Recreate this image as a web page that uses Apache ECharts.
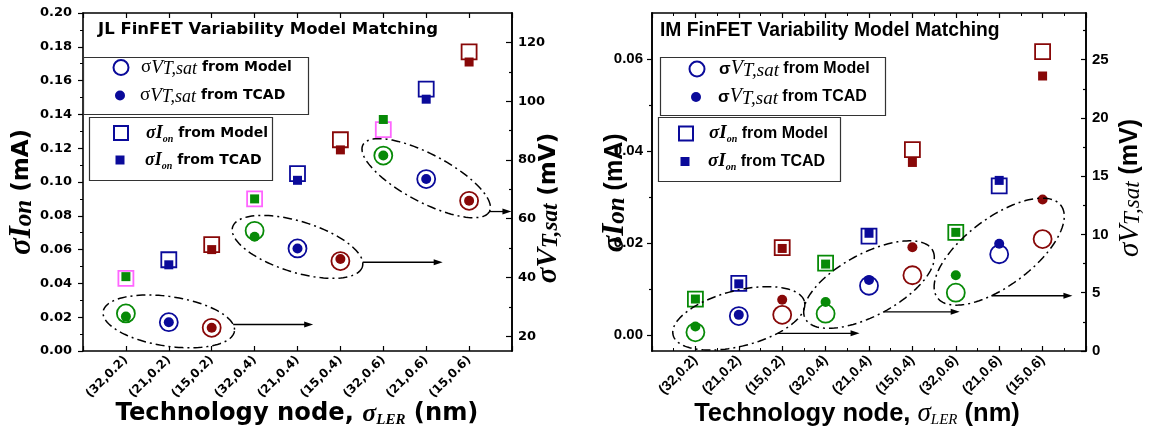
<!DOCTYPE html>
<html>
<head>
<meta charset="utf-8">
<title>FinFET Variability Model Matching</title>
<script src="https://cdn.jsdelivr.net/npm/echarts@6.0.0/dist/echarts.min.js"></script>
<style>
html, body { margin: 0; padding: 0; background: #fff; }
#chart { width: 1156px; height: 442px; }
</style>
</head>
<body>
<div id="chart"></div>
<script>
// Technology node (nm), sigma_LER (nm)
const categories = ['(32,0.2)', '(21,0.2)', '(15,0.2)', '(32,0.4)', '(21,0.4)', '(15,0.4)', '(32,0.6)', '(21,0.6)', '(15,0.6)'];

// Junctionless FinFET: sigma Ion (mA) and sigma VT,sat (mV)
const jlIonModel = [0.043, 0.054, 0.063, 0.090, 0.105, 0.125, 0.131, 0.155, 0.177];
const jlIonTcad  = [0.044, 0.051, 0.060, 0.090, 0.101, 0.119, 0.137, 0.149, 0.171];
const jlVtModel  = [27.8, 24.8, 22.9, 55.9, 49.9, 45.6, 81.5, 73.5, 66.1];
const jlVtTcad   = [26.7, 24.8, 22.9, 53.9, 49.9, 46.3, 81.5, 73.5, 66.1];

// Inversion-mode FinFET: sigma Ion (mA) and sigma VT,sat (mV)
const imIonModel = [0.0078, 0.0112, 0.0190, 0.0156, 0.0215, 0.0403, 0.0223, 0.0324, 0.0616];
const imIonTcad  = [0.0078, 0.0111, 0.0188, 0.0154, 0.0221, 0.0375, 0.0223, 0.0336, 0.0563];
const imVtModel  = [1.6, 3.0, 3.1, 3.2, 5.6, 6.5, 5.0, 8.3, 9.6];
const imVtTcad   = [2.1, 3.1, 4.4, 4.2, 6.1, 8.9, 6.5, 9.2, 13.0];

// Axis ranges and tick values
const jlIonRange = [0, 0.2];
const jlVtRange = [15, 130];
const jlVtTicks = [20, 40, 60, 80, 100, 120];
const jlVtMinorTicks = [30, 50, 70, 90, 110];
const imIonRange = [-0.0035, 0.07];
const imIonTicks = [0, 0.02, 0.04, 0.06];
const imIonMinorTicks = [0.01, 0.03, 0.05];
const imVtRange = [0, 29];
const imVtTicks = [0, 5, 10, 15, 20, 25];
const imVtMinorTicks = [2.5, 7.5, 12.5, 17.5, 22.5, 27.5];

const BLACK = '#000';
const GREEN = '#078a07', NAVY = '#0a0a9a', MAROON = '#880808', PINK = '#ff66ff';
const nodeColors = { '32': GREEN, '21': NAVY, '15': MAROON };
const nodeOf = i => categories[i].slice(1, 3);
const colorOf = i => nodeColors[nodeOf(i)];
const jlModelSquareColor = i => nodeOf(i) === '32' ? PINK : colorOf(i);

const chart = echarts.init(document.getElementById('chart'), null, { renderer: 'canvas' });

const lineStyle = { color: BLACK, width: 1.6 };
const tickStyle = { color: BLACK, width: 1.2 };

function xAxisPair(gridIndex, fontFamily, fontSize, minor) {
  const base = {
    type: 'value', gridIndex, min: 0, max: categories.length + 1, interval: 1,
    axisLine: { show: true, onZero: false, lineStyle },
    axisTick: { show: true, inside: true, length: 5, lineStyle: tickStyle },
    minorTick: { show: minor, splitNumber: 2, length: 3, lineStyle: { color: BLACK, width: 1 } },
    splitLine: { show: false }, minorSplitLine: { show: false }
  };
  return [
    Object.assign({}, base, {
      position: 'bottom',
      axisLabel: { show: true, rotate: 45, margin: 7, color: BLACK, fontFamily, fontWeight: 'bold', fontSize,
        formatter: v => categories[v - 1] || '' }
    }),
    Object.assign({}, base, { position: 'top', axisLabel: { show: false } })
  ];
}

function valueAxis(gridIndex, position, range, cfg) {
  return {
    type: 'value', gridIndex, position, min: range[0], max: range[1],
    axisLine: { show: true, onZero: false, lineStyle },
    splitLine: { show: false }, minorSplitLine: { show: false },
    ...cfg
  };
}

const yAxes = [
  // 0: JL sigma Ion
  valueAxis(0, 'left', jlIonRange, {
    interval: 0.02,
    axisTick: { show: true, inside: false, length: 5, lineStyle: tickStyle },
    minorTick: { show: true, splitNumber: 2, length: 3, lineStyle: { color: BLACK, width: 1 } },
    axisLabel: { margin: 11, color: BLACK, fontFamily: 'DejaVu Sans', fontWeight: 'bold', fontSize: 13,
      formatter: v => v.toFixed(2) }
  }),
  // 1: JL sigma VT,sat
  valueAxis(0, 'right', jlVtRange, {
    axisTick: { show: true, inside: true, length: 6, customValues: jlVtTicks, lineStyle: tickStyle },
    axisLabel: { customValues: jlVtTicks, margin: 6, color: BLACK, fontFamily: 'DejaVu Sans', fontWeight: 'bold', fontSize: 13 }
  }),
  // 2: JL sigma VT,sat minor ticks
  valueAxis(0, 'right', jlVtRange, {
    axisTick: { show: true, inside: true, length: 3, customValues: jlVtMinorTicks, lineStyle: tickStyle },
    axisLabel: { show: false }
  }),
  // 3: IM sigma Ion
  valueAxis(1, 'left', imIonRange, {
    axisTick: { show: true, inside: false, length: 5, customValues: imIonTicks, lineStyle: tickStyle },
    axisLabel: { customValues: imIonTicks, margin: 9, color: BLACK, fontFamily: 'Liberation Sans', fontWeight: 'bold', fontSize: 15,
      formatter: v => v.toFixed(2) }
  }),
  // 4: IM sigma Ion minor ticks
  valueAxis(1, 'left', imIonRange, {
    axisTick: { show: true, inside: false, length: 3, customValues: imIonMinorTicks, lineStyle: tickStyle },
    axisLabel: { show: false }
  }),
  // 5: IM sigma VT,sat
  valueAxis(1, 'right', imVtRange, {
    axisTick: { show: true, inside: true, length: 5, customValues: imVtTicks, lineStyle: tickStyle },
    axisLabel: { customValues: imVtTicks, margin: 6, color: BLACK, fontFamily: 'Liberation Sans', fontWeight: 'bold', fontSize: 15 }
  }),
  // 6: IM sigma VT,sat minor ticks
  valueAxis(1, 'right', imVtRange, {
    axisTick: { show: true, inside: true, length: 3, customValues: imVtMinorTicks, lineStyle: tickStyle },
    axisLabel: { show: false }
  })
];

function markSeries(name, xAxisIndex, yAxisIndex, values, symbol, size, open, colorFn) {
  return {
    type: 'scatter', name, xAxisIndex, yAxisIndex, symbol, symbolSize: size,
    z: open ? 2 : 3,
    itemStyle: open
      ? { color: 'rgba(0,0,0,0)', borderColor: NAVY, borderWidth: 1.8, opacity: 1 }
      : { color: NAVY, borderWidth: 0, opacity: 1 },
    emphasis: { disabled: true },
    data: values.map((v, i) => ({
      value: [i + 1, v],
      itemStyle: open ? { borderColor: colorFn(i) } : { color: colorFn(i) }
    }))
  };
}

const series = [
  markSeries('JL Ion Model', 0, 0, jlIonModel, 'rect', 15, true, jlModelSquareColor),
  markSeries('JL Ion TCAD', 0, 0, jlIonTcad, 'rect', 9, false, colorOf),
  markSeries('JL VT Model', 0, 1, jlVtModel, 'circle', 18, true, colorOf),
  markSeries('JL VT TCAD', 0, 1, jlVtTcad, 'circle', 10, false, colorOf),
  markSeries('IM Ion Model', 2, 3, imIonModel, 'rect', 15, true, colorOf),
  markSeries('IM Ion TCAD', 2, 3, imIonTcad, 'rect', 9, false, colorOf),
  markSeries('IM VT Model', 2, 5, imVtModel, 'circle', 18, true, colorOf),
  markSeries('IM VT TCAD', 2, 5, imVtTcad, 'circle', 10, false, colorOf)
];

// Legend text styles for each panel
const jlRich = {
  sg: { fontFamily: 'Liberation Serif', fontSize: 19, lineHeight: 22, color: BLACK },
  v:  { fontFamily: 'Liberation Serif', fontStyle: 'italic', fontSize: 19, lineHeight: 22, color: BLACK },
  vs: { fontFamily: 'Liberation Serif', fontStyle: 'italic', fontSize: 18, lineHeight: 6, verticalAlign: 'bottom', color: BLACK },
  i:  { fontFamily: 'Liberation Serif', fontStyle: 'italic', fontWeight: 'bold', fontSize: 18, lineHeight: 22, color: BLACK },
  is: { fontFamily: 'Liberation Serif', fontStyle: 'italic', fontWeight: 'bold', fontSize: 10, lineHeight: 2, verticalAlign: 'bottom', color: BLACK },
  t:  { fontFamily: 'DejaVu Sans', fontWeight: 'bold', fontSize: 14, lineHeight: 22, color: BLACK }
};
const imRich = {
  sg: { fontFamily: 'Liberation Sans', fontWeight: 'bold', fontSize: 17, lineHeight: 22, color: BLACK },
  v:  { fontFamily: 'Liberation Serif', fontStyle: 'italic', fontSize: 20, lineHeight: 22, color: BLACK },
  vs: { fontFamily: 'Liberation Serif', fontStyle: 'italic', fontSize: 19, lineHeight: 6, verticalAlign: 'bottom', color: BLACK },
  i:  { fontFamily: 'Liberation Serif', fontStyle: 'italic', fontWeight: 'bold', fontSize: 19, lineHeight: 22, color: BLACK },
  is: { fontFamily: 'Liberation Serif', fontStyle: 'italic', fontWeight: 'bold', fontSize: 10, lineHeight: 2, verticalAlign: 'bottom', color: BLACK },
  t:  { fontFamily: 'Liberation Sans', fontWeight: 'bold', fontSize: 16, lineHeight: 22, color: BLACK }
};
const legendLabels = {
  'VT Model': '{gap| }{sg|σ}{v|V}{vs|T,sat}{t| from Model}',
  'VT TCAD':  '{gap| }{sg|σ}{v|V}{vs|T,sat}{t| from TCAD}',
  'Ion Model': '{gap| }{i|σI}{is|on}{t| from Model}',
  'Ion TCAD':  '{gap| }{i|σI}{is|on}{t| from TCAD}'
};

function legendEntry(name, cx, cy, size, textX, rich) {
  const gap = Math.max(1, textX - (cx + size / 2 + 5));
  return {
    show: true, selectedMode: false, orient: 'horizontal', padding: 0, itemGap: 0,
    left: cx - size / 2, top: cy - 11, itemWidth: size, itemHeight: size,
    data: [name],
    formatter: n => legendLabels[n.slice(3)],
    textStyle: { color: BLACK, rich: Object.assign({ gap: { width: gap, lineHeight: 22 } }, rich) }
  };
}

const legends = [
  legendEntry('JL VT Model', 120, 69, 15, 140, jlRich),
  legendEntry('JL VT TCAD', 120, 97, 10, 140, jlRich),
  legendEntry('JL Ion Model', 120, 135, 14, 145, jlRich),
  legendEntry('JL Ion TCAD', 120, 162, 9, 145, jlRich),
  legendEntry('IM VT Model', 696, 70, 15, 718, imRich),
  legendEntry('IM VT TCAD', 696, 98, 10, 718, imRich),
  legendEntry('IM Ion Model', 685, 135, 14, 708, imRich),
  legendEntry('IM Ion TCAD', 685, 163, 9, 708, imRich)
];

const xAxes = [].concat(
  xAxisPair(0, 'DejaVu Sans', 12, false),
  xAxisPair(1, 'Liberation Sans', 14, true)
);

chart.setOption({
  animation: false,
  backgroundColor: '#fff',
  grid: [
    { left: 83, top: 13, width: 429, height: 338, outerBoundsMode: 'none' },
    { left: 652, top: 13, width: 434, height: 338, outerBoundsMode: 'none' }
  ],
  xAxis: xAxes,
  yAxis: yAxes,
  legend: legends,
  series
});

// Dash-dot ellipses around each sigma_LER group of VT,sat points, with arrows
const jlArrows = [{ t: -15, len: 80 }, { t: -10, len: 80 }, { t: 0, len: 22 }];
const imArrows = [{ t: 60, len: 82 }, { t: 90, len: 76 }, { t: 115, len: 81 }];

function groupAnnotations(modelIdx, tcadIdx, modelVals, tcadVals, arrows) {
  const els = [];
  arrows.forEach((arw, g) => {
    const centers = [];
    let spread = 0;
    for (let k = 0; k < 3; k++) {
      const i = 3 * g + k;
      const a = chart.convertToPixel({ seriesIndex: modelIdx }, [i + 1, modelVals[i]]);
      const b = chart.convertToPixel({ seriesIndex: tcadIdx }, [i + 1, tcadVals[i]]);
      spread = Math.max(spread, Math.hypot(a[0] - b[0], a[1] - b[1]));
      centers.push([(a[0] + b[0]) / 2, (a[1] + b[1]) / 2]);
    }
    const p = centers[0], q = centers[2];
    const cx = (p[0] + q[0]) / 2, cy = (p[1] + q[1]) / 2;
    const phi = Math.atan2(q[1] - p[1], q[0] - p[0]);
    const ra = Math.hypot(q[0] - p[0], q[1] - p[1]) / 2 + 23;
    const rb = 24 + 0.25 * spread;
    const at = t => {
      const c = Math.cos(t), s = Math.sin(t);
      return [cx + ra * c * Math.cos(phi) - rb * s * Math.sin(phi),
              cy + ra * c * Math.sin(phi) + rb * s * Math.cos(phi)];
    };
    const ring = [];
    for (let j = 0; j < 120; j++) ring.push(at(j / 120 * 2 * Math.PI));
    els.push({ type: 'polygon', silent: true, z: 10, shape: { points: ring },
      style: { fill: 'none', stroke: BLACK, lineWidth: 1.5, lineDash: [9, 4, 2, 4] } });
    const s = at(arw.t * Math.PI / 180);
    const e = [s[0] + arw.len, s[1]];
    els.push({ type: 'polyline', silent: true, z: 10, shape: { points: [s, [e[0] - 6, e[1]]] },
      style: { stroke: BLACK, lineWidth: 1.3 } });
    els.push({ type: 'polygon', silent: true, z: 10, shape: { points: [e, [e[0] - 9, e[1] - 3], [e[0] - 9, e[1] + 3]] },
      style: { fill: BLACK } });
  });
  return els;
}

function textEl(x, y, rotation, text, rich) {
  return { type: 'text', x, y, rotation, silent: true, z: 5,
    style: { text, rich, fill: BLACK, align: 'center', verticalAlign: 'middle' } };
}

const serifBI = { fontFamily: 'Liberation Serif', fontStyle: 'italic', fontWeight: 'bold' };
const serifI = { fontFamily: 'Liberation Serif', fontStyle: 'italic' };

const labels = [
  // panel titles
  { type: 'text', x: 98, y: 30, silent: true, z: 5,
    style: { text: 'JL FinFET Variability Model Matching', font: 'bold 16.5px "DejaVu Sans"', fill: BLACK, align: 'left', verticalAlign: 'middle' } },
  { type: 'text', x: 660, y: 31, silent: true, z: 5,
    style: { text: 'IM FinFET Variability Model Matching', font: 'bold 19.3px "Liberation Sans"', fill: BLACK, align: 'left', verticalAlign: 'middle' } },
  // JL axis titles
  textEl(297, 414, 0, '{u|Technology node, }{s|σ}{sub|LER}{u| (nm)}', {
    u: { fontFamily: 'DejaVu Sans', fontWeight: 'bold', fontSize: 24.2, lineHeight: 28 },
    s: Object.assign({ fontSize: 26, lineHeight: 28 }, serifBI),
    sub: Object.assign({ fontSize: 15, lineHeight: 2, verticalAlign: 'bottom' }, serifBI)
  }),
  textEl(22, 192, Math.PI / 2, '{s|σI}{sub|on}{u| (mA)}', {
    s: Object.assign({ fontSize: 31, lineHeight: 30 }, serifBI),
    sub: Object.assign({ fontSize: 25, lineHeight: 8, verticalAlign: 'bottom' }, serifBI),
    u: { fontFamily: 'DejaVu Sans', fontWeight: 'bold', fontSize: 23, lineHeight: 30 }
  }),
  textEl(549, 208, Math.PI / 2, '{s|σV}{sub|T,sat}{u| (mV)}', {
    s: Object.assign({ fontSize: 29, lineHeight: 28 }, serifBI),
    sub: Object.assign({ fontSize: 23, lineHeight: 6, verticalAlign: 'bottom' }, serifBI),
    u: { fontFamily: 'DejaVu Sans', fontWeight: 'bold', fontSize: 23, lineHeight: 28 }
  }),
  // IM axis titles
  textEl(857, 414, 0, '{u|Technology node, }{s|σ}{sub|LER}{u| (nm)}', {
    u: { fontFamily: 'Liberation Sans', fontWeight: 'bold', fontSize: 25.5, lineHeight: 28 },
    s: Object.assign({ fontSize: 27, lineHeight: 28 }, serifI),
    sub: Object.assign({ fontSize: 15, lineHeight: 2, verticalAlign: 'bottom' }, serifI)
  }),
  textEl(615, 193, Math.PI / 2, '{s|σI}{sub|on}{u| (mA)}', {
    s: Object.assign({ fontSize: 31, lineHeight: 30 }, serifBI),
    sub: Object.assign({ fontSize: 25, lineHeight: 8, verticalAlign: 'bottom' }, serifBI),
    u: { fontFamily: 'Liberation Sans', fontWeight: 'bold', fontSize: 25, lineHeight: 30 }
  }),
  textEl(1130, 188, Math.PI / 2, '{s|σV}{sub|T,sat}{u| (mV)}', {
    s: Object.assign({ fontSize: 29, lineHeight: 28 }, serifI),
    sub: Object.assign({ fontSize: 23, lineHeight: 6, verticalAlign: 'bottom' }, serifI),
    u: { fontFamily: 'Liberation Sans', fontWeight: 'bold', fontSize: 25, lineHeight: 28 }
  })
];

// Legend frames
const boxes = [[83, 57, 225, 57], [89, 117, 183, 63], [660, 57, 225, 58], [658, 117, 182, 64]].map(b => ({
  type: 'rect', silent: true, z: 1, shape: { x: b[0] + 0.5, y: b[1] + 0.5, width: b[2], height: b[3] },
  style: { fill: 'none', stroke: '#333', lineWidth: 1.2 }
}));

chart.setOption({
  graphic: {
    elements: [].concat(
      boxes,
      labels,
      groupAnnotations(2, 3, jlVtModel, jlVtTcad, jlArrows),
      groupAnnotations(6, 7, imVtModel, imVtTcad, imArrows)
    )
  }
});
</script>
</body>
</html>
